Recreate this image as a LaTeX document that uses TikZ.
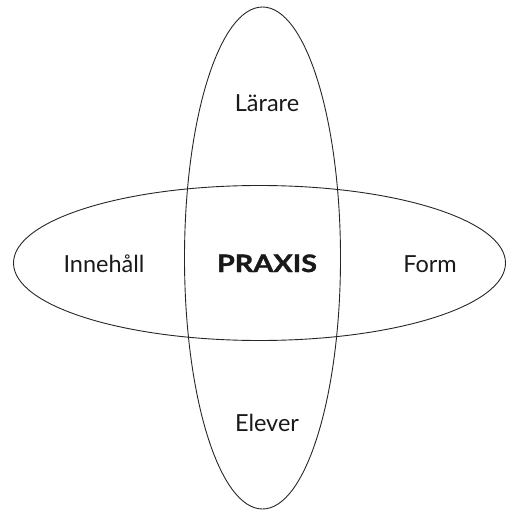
\documentclass[tikz,border=0pt]{standalone}
\usepackage{fontspec}
\setmainfont{Lato}
\newfontfamily\praxisfont[FakeStretch=1.2,FakeBold=1.5]{Lato}
\usepackage{tikz}

\begin{document}
\begin{tikzpicture}[
    x=1pt, y=-1pt,
    ring/.style={draw, line width=0.9pt, black!85},
    lbl/.style={font=\fontsize{23.5}{28}\selectfont, text=black!90, anchor=base, inner sep=0pt},
    core/.style={lbl, font=\praxisfont\fontsize{24}{29}\selectfont\bfseries}
]
\useasboundingbox (0,0) rectangle (506,510);

% the two ellipses
\draw [ring] (262.5,258) ellipse [x radius=78, y radius=251];
\draw [ring] (259.5,263) ellipse [x radius=246, y radius=77.5];

\node [core] (praxis) at (267,272) {PRAXIS};
\node [lbl] (larare) at (267,112) {Lärare};
\node [lbl] (elever) at (267,431) {Elever};
\node [lbl] (innehall) at (104,272) {Innehåll};
\node [lbl] (form) at (430,272) {Form};

\end{tikzpicture}
\end{document}
